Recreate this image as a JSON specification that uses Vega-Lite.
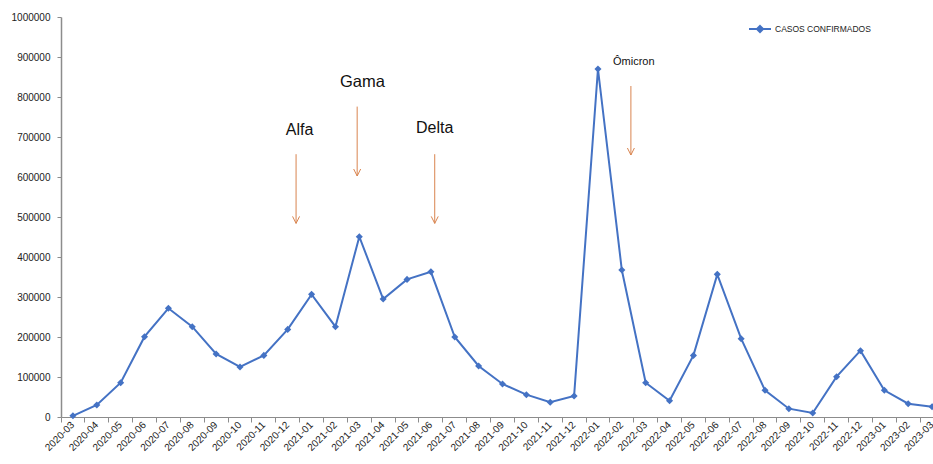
{
  "$schema": "https://vega.github.io/schema/vega-lite/v6.json",
  "width": 883,
  "height": 400,
  "autosize": {"type": "none"},
  "padding": {"left": 61, "top": 17, "right": 0, "bottom": 47},
  "background": "white",
  "config": {
    "view": {"stroke": null},
    "font": "Liberation Sans",
    "axis": {"labelFont": "Liberation Sans", "labelColor": "#222222", "domainColor": "#8c8c8c", "tickColor": "#8c8c8c", "grid": false, "title": null}
  },
  "datasets": {
    "casos": [
      {"mes": "2020-03", "casos": 3000, "serie": "CASOS CONFIRMADOS"},
      {"mes": "2020-04", "casos": 30000, "serie": "CASOS CONFIRMADOS"},
      {"mes": "2020-05", "casos": 85800, "serie": "CASOS CONFIRMADOS"},
      {"mes": "2020-06", "casos": 200800, "serie": "CASOS CONFIRMADOS"},
      {"mes": "2020-07", "casos": 271700, "serie": "CASOS CONFIRMADOS"},
      {"mes": "2020-08", "casos": 225800, "serie": "CASOS CONFIRMADOS"},
      {"mes": "2020-09", "casos": 157500, "serie": "CASOS CONFIRMADOS"},
      {"mes": "2020-10", "casos": 125000, "serie": "CASOS CONFIRMADOS"},
      {"mes": "2020-11", "casos": 154000, "serie": "CASOS CONFIRMADOS"},
      {"mes": "2020-12", "casos": 219000, "serie": "CASOS CONFIRMADOS"},
      {"mes": "2021-01", "casos": 306600, "serie": "CASOS CONFIRMADOS"},
      {"mes": "2021-02", "casos": 225800, "serie": "CASOS CONFIRMADOS"},
      {"mes": "2021-03", "casos": 450800, "serie": "CASOS CONFIRMADOS"},
      {"mes": "2021-04", "casos": 295000, "serie": "CASOS CONFIRMADOS"},
      {"mes": "2021-05", "casos": 344000, "serie": "CASOS CONFIRMADOS"},
      {"mes": "2021-06", "casos": 363000, "serie": "CASOS CONFIRMADOS"},
      {"mes": "2021-07", "casos": 200000, "serie": "CASOS CONFIRMADOS"},
      {"mes": "2021-08", "casos": 127500, "serie": "CASOS CONFIRMADOS"},
      {"mes": "2021-09", "casos": 82500, "serie": "CASOS CONFIRMADOS"},
      {"mes": "2021-10", "casos": 55800, "serie": "CASOS CONFIRMADOS"},
      {"mes": "2021-11", "casos": 36700, "serie": "CASOS CONFIRMADOS"},
      {"mes": "2021-12", "casos": 52500, "serie": "CASOS CONFIRMADOS"},
      {"mes": "2022-01", "casos": 870000, "serie": "CASOS CONFIRMADOS"},
      {"mes": "2022-02", "casos": 367500, "serie": "CASOS CONFIRMADOS"},
      {"mes": "2022-03", "casos": 85800, "serie": "CASOS CONFIRMADOS"},
      {"mes": "2022-04", "casos": 40800, "serie": "CASOS CONFIRMADOS"},
      {"mes": "2022-05", "casos": 154000, "serie": "CASOS CONFIRMADOS"},
      {"mes": "2022-06", "casos": 356600, "serie": "CASOS CONFIRMADOS"},
      {"mes": "2022-07", "casos": 195800, "serie": "CASOS CONFIRMADOS"},
      {"mes": "2022-08", "casos": 66700, "serie": "CASOS CONFIRMADOS"},
      {"mes": "2022-09", "casos": 20800, "serie": "CASOS CONFIRMADOS"},
      {"mes": "2022-10", "casos": 10000, "serie": "CASOS CONFIRMADOS"},
      {"mes": "2022-11", "casos": 100800, "serie": "CASOS CONFIRMADOS"},
      {"mes": "2022-12", "casos": 165800, "serie": "CASOS CONFIRMADOS"},
      {"mes": "2023-01", "casos": 66700, "serie": "CASOS CONFIRMADOS"},
      {"mes": "2023-02", "casos": 33300, "serie": "CASOS CONFIRMADOS"},
      {"mes": "2023-03", "casos": 25800, "serie": "CASOS CONFIRMADOS"}
    ],
    "variantes": [
      {"variante": "Alfa", "mes_seta": "2020-12", "mes_texto": "2021-01", "y_texto": 705000, "y_inicio": 657000, "y_fim": 484000},
      {"variante": "Gama", "mes_seta": "2021-03", "mes_texto": "2021-03", "y_texto": 825000, "y_inicio": 776000, "y_fim": 602500},
      {"variante": "Delta", "mes_seta": "2021-06", "mes_texto": "2021-06", "y_texto": 711000, "y_inicio": 657000, "y_fim": 484000},
      {"variante": "Ômicron", "mes_seta": "2022-02", "mes_texto": "2022-03", "y_texto": 880000, "y_inicio": 827500, "y_fim": 655000}
    ]
  },
  "data": {"name": "casos"},
  "resolve": {"axis": {"x": "independent", "y": "independent"}},
  "layer": [
    {
      "mark": {"type": "line", "color": "#4472C4", "strokeWidth": 2},
      "encoding": {
        "x": {"field": "mes", "type": "ordinal", "sort": null,
          "scale": {"type": "band", "paddingInner": 0, "paddingOuter": 0},
          "axis": {"orient": "bottom", "labelAngle": -45, "labelFontSize": 10, "ticks": false, "domain": true, "labelPadding": 6, "labelAlign": "right", "labelBaseline": "middle", "labelOverlap": false}},
        "y": {"field": "casos", "type": "quantitative",
          "scale": {"domain": [0, 1000000], "nice": false},
          "axis": {"orient": "left", "values": [0, 100000, 200000, 300000, 400000, 500000, 600000, 700000, 800000, 900000, 1000000], "format": "d", "labelFontSize": 10, "tickSize": 4, "labelPadding": 7, "domainWidth": 1.5, "labelOverlap": false}}
      }
    },
    {
      "mark": {"type": "point", "shape": "diamond", "filled": true, "size": 50, "opacity": 1},
      "encoding": {
        "x": {"field": "mes", "type": "ordinal", "sort": null,
          "axis": {"orient": "bottom", "bandPosition": 0, "labels": false, "domain": false, "ticks": true, "tickSize": 5}},
        "y": {"field": "casos", "type": "quantitative", "axis": null},
        "color": {"field": "serie", "type": "nominal",
          "scale": {"range": ["#4472C4"]},
          "legend": {"title": null, "orient": "none", "legendX": 687, "legendY": 0, "padding": 0,
            "symbolType": "M-1,0L1,0M0,-0.28L0.28,0L0,0.28L-0.28,0Z", "symbolSize": 484, "symbolStrokeWidth": 2,
            "symbolFillColor": "#4472C4", "symbolStrokeColor": "#4472C4",
            "labelFontSize": 8.5, "labelColor": "#222222", "labelOffset": 3}}
      }
    },
    {
      "data": {"name": "variantes"},
      "transform": [{"filter": "datum.variante === 'Alfa'"}],
      "layer": [
        {"mark": {"type": "rule", "color": "#D9844F", "strokeWidth": 1},
          "encoding": {"x": {"field": "mes_seta", "type": "ordinal", "bandPosition": 0.85, "axis": null}, "y": {"field": "y_inicio", "type": "quantitative", "axis": null}, "y2": {"field": "y_fim"}}},
        {"mark": {"type": "point", "shape": "M-1,-2L0,0L1,-2", "filled": false, "size": 49, "color": "#D9844F", "strokeWidth": 1, "opacity": 1},
          "encoding": {"x": {"field": "mes_seta", "type": "ordinal", "bandPosition": 0.85, "axis": null}, "y": {"field": "y_fim", "type": "quantitative", "axis": null}}},
        {"mark": {"type": "text", "fontSize": 16, "baseline": "alphabetic", "color": "#111111", "font": "Liberation Sans"},
          "encoding": {"x": {"field": "mes_texto", "type": "ordinal", "bandPosition": 0, "axis": null}, "y": {"field": "y_texto", "type": "quantitative", "axis": null}, "text": {"field": "variante"}}}
      ]
    },
    {
      "data": {"name": "variantes"},
      "transform": [{"filter": "datum.variante === 'Gama'"}],
      "layer": [
        {"mark": {"type": "rule", "color": "#D9844F", "strokeWidth": 1},
          "encoding": {"x": {"field": "mes_seta", "type": "ordinal", "bandPosition": 0.41, "axis": null}, "y": {"field": "y_inicio", "type": "quantitative", "axis": null}, "y2": {"field": "y_fim"}}},
        {"mark": {"type": "point", "shape": "M-1,-2L0,0L1,-2", "filled": false, "size": 49, "color": "#D9844F", "strokeWidth": 1, "opacity": 1},
          "encoding": {"x": {"field": "mes_seta", "type": "ordinal", "bandPosition": 0.41, "axis": null}, "y": {"field": "y_fim", "type": "quantitative", "axis": null}}},
        {"mark": {"type": "text", "fontSize": 16.5, "baseline": "alphabetic", "color": "#111111", "font": "Liberation Sans"},
          "encoding": {"x": {"field": "mes_texto", "type": "ordinal", "bandPosition": 0.63, "axis": null}, "y": {"field": "y_texto", "type": "quantitative", "axis": null}, "text": {"field": "variante"}}}
      ]
    },
    {
      "data": {"name": "variantes"},
      "transform": [{"filter": "datum.variante === 'Delta'"}],
      "layer": [
        {"mark": {"type": "rule", "color": "#D9844F", "strokeWidth": 1},
          "encoding": {"x": {"field": "mes_seta", "type": "ordinal", "bandPosition": 0.66, "axis": null}, "y": {"field": "y_inicio", "type": "quantitative", "axis": null}, "y2": {"field": "y_fim"}}},
        {"mark": {"type": "point", "shape": "M-1,-2L0,0L1,-2", "filled": false, "size": 49, "color": "#D9844F", "strokeWidth": 1, "opacity": 1},
          "encoding": {"x": {"field": "mes_seta", "type": "ordinal", "bandPosition": 0.66, "axis": null}, "y": {"field": "y_fim", "type": "quantitative", "axis": null}}},
        {"mark": {"type": "text", "fontSize": 16, "baseline": "alphabetic", "color": "#111111", "font": "Liberation Sans"},
          "encoding": {"x": {"field": "mes_texto", "type": "ordinal", "bandPosition": 0.66, "axis": null}, "y": {"field": "y_texto", "type": "quantitative", "axis": null}, "text": {"field": "variante"}}}
      ]
    },
    {
      "data": {"name": "variantes"},
      "transform": [{"filter": "datum.variante === 'Ômicron'"}],
      "layer": [
        {"mark": {"type": "rule", "color": "#D9844F", "strokeWidth": 1},
          "encoding": {"x": {"field": "mes_seta", "type": "ordinal", "bandPosition": 0.88, "axis": null}, "y": {"field": "y_inicio", "type": "quantitative", "axis": null}, "y2": {"field": "y_fim"}}},
        {"mark": {"type": "point", "shape": "M-1,-2L0,0L1,-2", "filled": false, "size": 49, "color": "#D9844F", "strokeWidth": 1, "opacity": 1},
          "encoding": {"x": {"field": "mes_seta", "type": "ordinal", "bandPosition": 0.88, "axis": null}, "y": {"field": "y_fim", "type": "quantitative", "axis": null}}},
        {"mark": {"type": "text", "fontSize": 11, "baseline": "alphabetic", "color": "#111111", "font": "Liberation Sans"},
          "encoding": {"x": {"field": "mes_texto", "type": "ordinal", "bandPosition": 0, "axis": null}, "y": {"field": "y_texto", "type": "quantitative", "axis": null}, "text": {"field": "variante"}}}
      ]
    }
  ]
}
